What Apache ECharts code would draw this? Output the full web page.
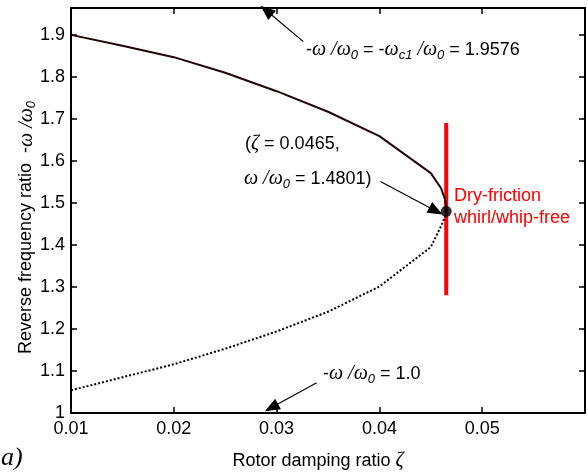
<!DOCTYPE html>
<html>
<head>
<meta charset="utf-8">
<script src="https://cdn.jsdelivr.net/npm/echarts@6/dist/echarts.min.js"></script>
<style>html,body{margin:0;padding:0;background:#fff;}#c{width:588px;height:476px;}</style>
</head>
<body>
<div id="c"></div>
<script>
const zeta = [0.01, 0.015, 0.02, 0.025, 0.03, 0.035, 0.04, 0.045, 0.046, 0.0464, 0.0465];
const upperRatio = [1.900, 1.874, 1.847, 1.810, 1.766, 1.717, 1.659, 1.571, 1.535, 1.507, 1.4801];
const lowerRatio = [1.054, 1.085, 1.116, 1.153, 1.194, 1.241, 1.301, 1.395, 1.445, 1.468, 1.4801];
const bifurcation = [0.0465, 1.4801];
const redLineX = [0.0465, 0.0465];
const redLineY = [1.28, 1.69];
const xTicks = [0.01, 0.02, 0.03, 0.04, 0.05];
const yTicks = [1, 1.1, 1.2, 1.3, 1.4, 1.5, 1.6, 1.7, 1.8, 1.9];
// arrows: [tail, head] in data coordinates
const arrowTop = [[0.0326, 1.884], [0.0290, 1.958]];
const arrowMid = [[0.0401, 1.551], [0.0455, 1.481]];
const arrowLow = [[0.0339, 1.072], [0.0295, 1.013]];

const FONT = 'Liberation Sans, Arial, sans-serif';
const SERIF = 'Liberation Serif, Times New Roman, serif';
const FS = 18;
function mkRich(key) {
  const c = {};
  c[key] = '#000';
  const r = {};
  r[key] = '#ff0000';
  return {
    n: Object.assign({fontFamily: FONT, fontSize: FS}, c),
    w: Object.assign({fontFamily: SERIF, fontStyle: 'italic', fontSize: FS + 2}, c),
    s: Object.assign({fontFamily: FONT, fontStyle: 'italic', fontSize: 13, padding: [10, 0, 0, 0]}, c),
    r: Object.assign({fontFamily: FONT, fontSize: FS}, r)
  };
}
const richAxis = mkRich('color');
const richG = mkRich('fill');

const chart = echarts.init(document.getElementById('c'));
const near = (v, arr) => arr.some(t => Math.abs(t - v) < 1e-6);
const axisCommon = {
  type: 'value',
  axisLine: {show: true, lineStyle: {color: '#000', width: 2}},
  axisTick: {show: true, inside: true, length: 6, lineStyle: {color: '#000', width: 1.5}},
  splitLine: {show: false}
};
chart.setOption({
  animation: false,
  grid: {left: 71, right: 3, top: 8, bottom: 63, containLabel: false},
  xAxis: [
    Object.assign({}, axisCommon, {
      min: 0.01, max: 0.06, interval: 0.01, position: 'bottom',
      axisLabel: {show: true, margin: 7, fontFamily: FONT, fontSize: FS, color: '#000',
        formatter: v => near(v, xTicks) ? v.toFixed(2) : ''},
      name: 'Rotor damping ratio {w|ζ}', nameLocation: 'middle', nameGap: 38,
      nameTextStyle: {fontFamily: FONT, fontSize: FS, color: '#000', padding: [0, 20, 0, 0], rich: richAxis}
    }),
    Object.assign({}, axisCommon, {
      min: 0.01, max: 0.06, interval: 0.01, position: 'top', axisLabel: {show: false}
    })
  ],
  yAxis: [
    Object.assign({}, axisCommon, {
      min: 1, max: 1.964, interval: 0.1, position: 'left',
      axisLabel: {show: true, margin: 6, fontFamily: FONT, fontSize: FS, color: '#000',
        formatter: v => near(v, yTicks) ? String(Math.round(v * 10) / 10) : ''},
      name: 'Reverse frequency ratio  {n|-}{w|ω /ω}{s|0}', nameLocation: 'middle', nameGap: 33, nameRotate: 90,
      nameMoveOverlap: false,
      nameTextStyle: {fontFamily: FONT, fontSize: FS, color: '#000', padding: [0, 34, 0, 0], rich: richAxis}
    }),
    Object.assign({}, axisCommon, {
      min: 1, max: 1.964, interval: 0.1, position: 'right', axisLabel: {show: false}
    })
  ],
  series: [
    {
      type: 'line', name: 'upper', data: zeta.map((z, i) => [z, upperRatio[i]]),
      showSymbol: false, lineStyle: {color: '#200505', width: 2}, z: 3
    },
    {
      type: 'line', name: 'lower', data: zeta.map((z, i) => [z, lowerRatio[i]]),
      showSymbol: false, lineStyle: {color: '#000', width: 2, type: 'dotted'}, z: 3
    },
    {
      type: 'line', name: 'dry-friction', data: redLineX.map((x, i) => [x, redLineY[i]]),
      showSymbol: false, lineStyle: {color: '#ff0000', width: 4}, z: 2
    },
    {
      type: 'scatter', name: 'point', data: [bifurcation], symbol: 'circle', symbolSize: 11,
      itemStyle: {color: '#000'}, z: 5
    },
    {
      type: 'line', name: 'arrows', data: [], clip: false, z: 6,
      markLine: {
        silent: true, animation: false,
        symbol: ['none', 'triangle'], symbolSize: [12, 15],
        label: {show: false},
        lineStyle: {color: '#000', width: 1.2, type: 'solid'},
        data: [arrowTop, arrowMid, arrowLow].map(a => [{coord: a[0]}, {coord: a[1]}])
      }
    }
  ],
  graphic: [
    {type: 'text', left: 306, top: 40, style: {text: '{n|-}{w|ω /ω}{s|0}{n| = -}{w|ω}{s|c1}{w| /ω}{s|0}{n| = 1.9576}', rich: richG}},
    {type: 'text', left: 245, top: 134, style: {text: '{n|(}{w|ζ}{n| = 0.0465,}', rich: richG}},
    {type: 'text', left: 244, top: 169, style: {text: '{w|ω /ω}{s|0}{n| = 1.4801)}', rich: richG}},
    {type: 'text', left: 454, top: 187, style: {text: '{r|Dry-friction}', rich: richG}},
    {type: 'text', left: 454, top: 209, style: {text: '{r|whirl/whip-free}', rich: richG}},
    {type: 'text', left: 323, top: 364, style: {text: '{n|-}{w|ω /ω}{s|0}{n| = 1.0}', rich: richG}},
    {type: 'text', left: 1, top: 445, style: {text: 'a)', fontFamily: SERIF, fontStyle: 'italic', fontSize: 26, fill: '#000'}}
  ]
});
</script>
</body>
</html>
